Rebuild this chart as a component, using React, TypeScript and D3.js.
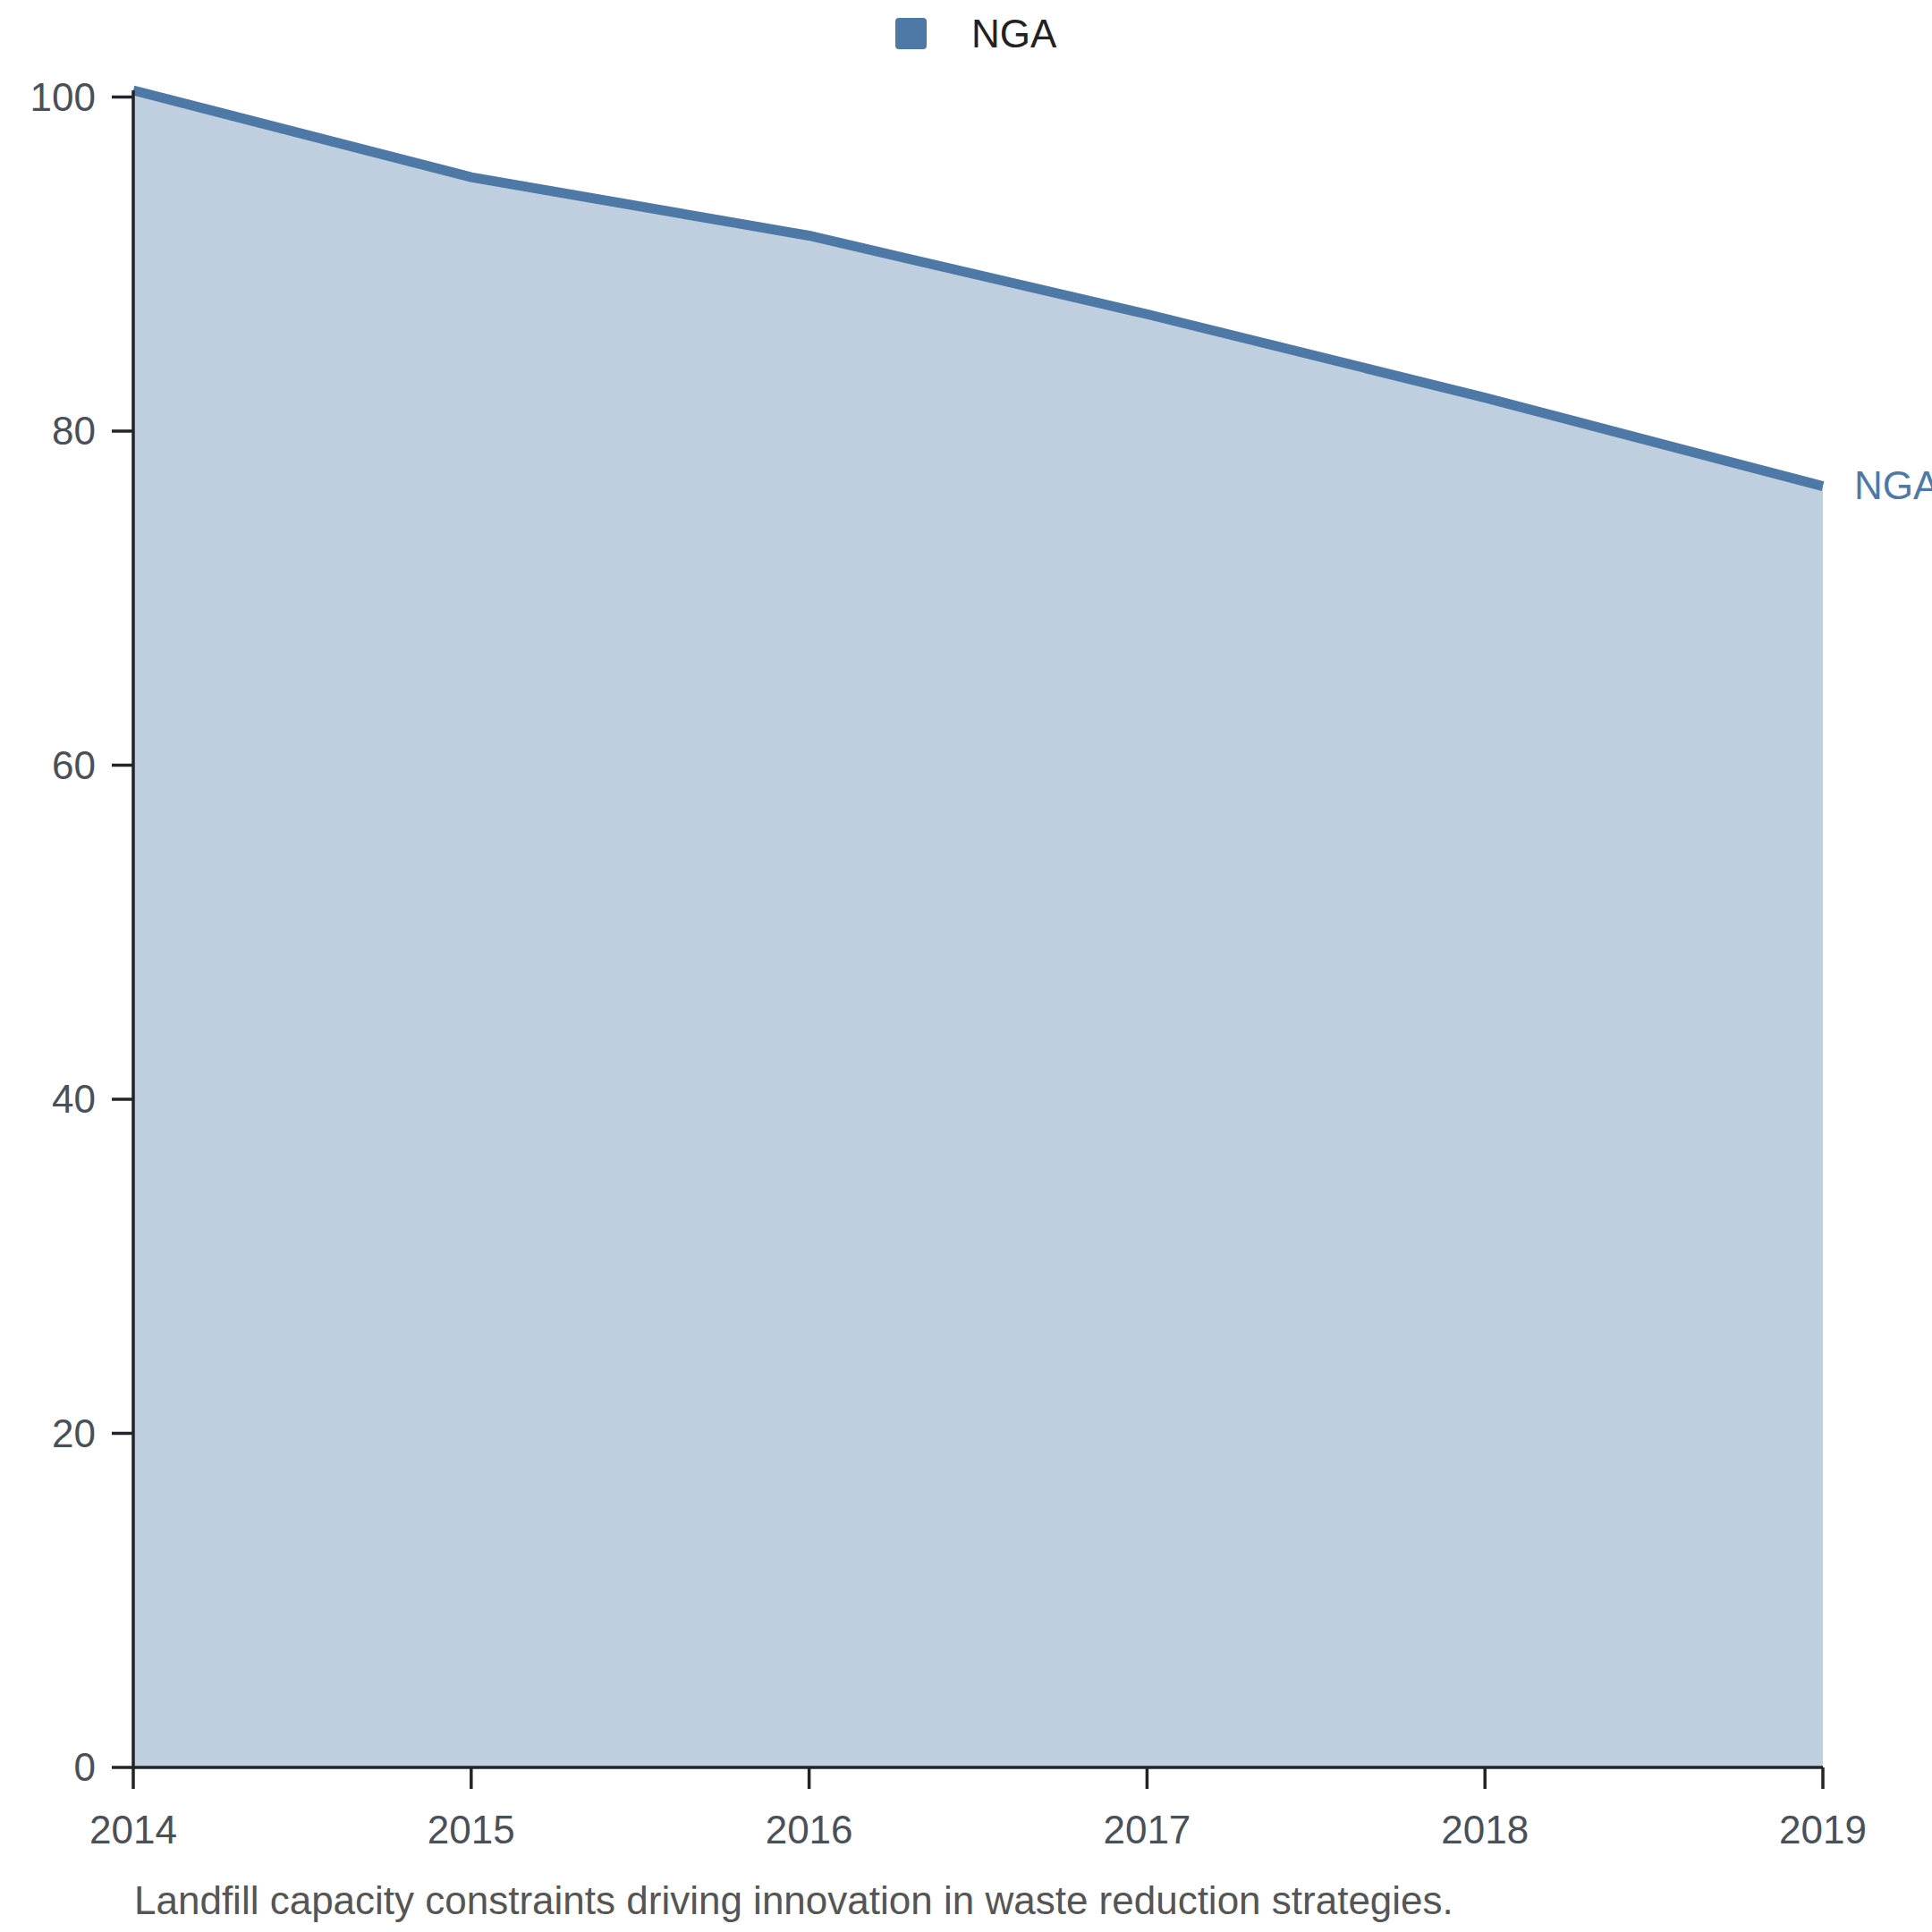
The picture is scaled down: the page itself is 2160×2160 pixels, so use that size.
import React from "react";
import * as d3 from "d3";

const years = [2014, 2015, 2016, 2017, 2018, 2019];
const ngaValues = [100.4, 95.2, 91.7, 87.0, 82.0, 76.7];
const yTicks = [0, 20, 40, 60, 80, 100];
const seriesName = "NGA";
const caption = "Landfill capacity constraints driving innovation in waste reduction strategies.";

const W = 2160;
const H = 2160;
const M = { left: 149, right: 2038, top: 101, bottom: 1976 };
const COLOR = "#4e79a7";
const AXIS = "#212529";
const TICK_TEXT = "#4a5059";
const FONT = "'Liberation Sans', Arial, sans-serif";
const FS = 44;

export default function App() {
  const x = d3.scaleLinear().domain([years[0], years[years.length - 1]]).range([M.left, M.right]);
  const y = d3.scaleLinear().domain([0, d3.max(ngaValues) as number]).range([M.bottom, M.top]);
  const data = years.map((yr, i) => ({ yr, v: ngaValues[i] }));
  const line = d3.line<{ yr: number; v: number }>().x((d) => x(d.yr)).y((d) => y(d.v));
  const area = d3
    .area<{ yr: number; v: number }>()
    .x((d) => x(d.yr))
    .y0(y(0))
    .y1((d) => y(d.v));
  const last = data[data.length - 1];

  return (
    <svg
      width={W}
      height={H}
      viewBox={`0 0 ${W} ${H}`}
      style={{ position: "absolute", left: 0, top: 0, background: "#fff" }}
      fontFamily={FONT}
    >
      {/* legend */}
      <rect x={1001} y={20} width={35} height={35} rx={4} fill={COLOR} />
      <text x={1086} y={53} fontSize={FS} fill="#222">
        {seriesName}
      </text>

      {/* area + line */}
      <path d={area(data) as string} fill={COLOR} fillOpacity={0.355} />
      <path d={line(data) as string} fill="none" stroke={COLOR} strokeWidth={11} />
      <text x={x(last.yr) + 35} y={y(last.v)} dy="0.33em" fontSize={FS} fill={COLOR}>
        {seriesName}
      </text>

      {/* y axis */}
      <line x1={M.left} x2={M.left} y1={M.top} y2={M.bottom} stroke={AXIS} strokeWidth={3.5} />
      {yTicks.map((t) => (
        <g key={t} transform={`translate(0,${y(t)})`}>
          <line x1={M.left - 24} x2={M.left} stroke={AXIS} strokeWidth={3.5} />
          <text x={M.left - 42} dy="0.35em" textAnchor="end" fontSize={FS} fill={TICK_TEXT}>
            {t}
          </text>
        </g>
      ))}

      {/* x axis */}
      <line x1={M.left} x2={M.right} y1={M.bottom} y2={M.bottom} stroke={AXIS} strokeWidth={3.5} />
      {years.map((yr) => (
        <g key={yr} transform={`translate(${x(yr)},0)`}>
          <line y1={M.bottom} y2={M.bottom + 24} stroke={AXIS} strokeWidth={3.5} />
          <text y={2061} textAnchor="middle" fontSize={FS} fill={TICK_TEXT}>
            {yr}
          </text>
        </g>
      ))}

      {/* caption */}
      <text x={150} y={2140} fontSize={FS} fill="#555">
        {caption}
      </text>
    </svg>
  );
}
